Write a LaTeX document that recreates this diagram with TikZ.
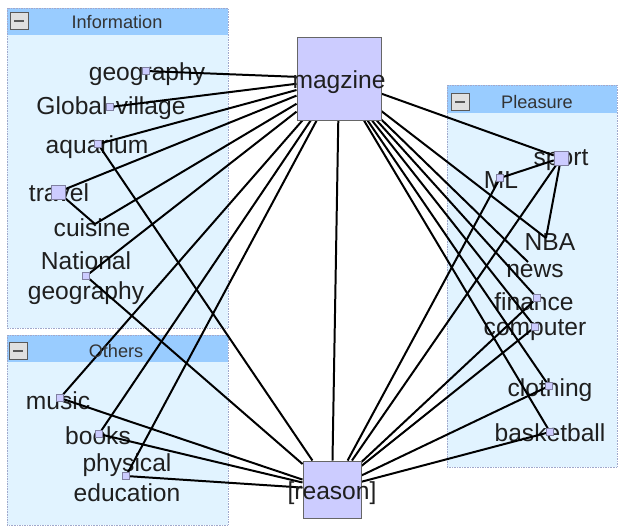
\documentclass[tikz,border=0pt]{standalone}
\usepackage{fontspec}
\setmainfont{Liberation Sans}
\usetikzlibrary{positioning}

\definecolor{groupbg}{HTML}{E1F3FF}
\definecolor{grouphead}{HTML}{99CCFF}
\definecolor{groupline}{HTML}{A0A8CC}
\definecolor{itemfill}{HTML}{CCCCFF}
\definecolor{itemline}{HTML}{8080A0}

\pgfdeclarelayer{boxes}
\pgfdeclarelayer{labels}
\pgfdeclarelayer{links}
\pgfsetlayers{boxes,labels,links,main}

\begin{document}
\begin{tikzpicture}[x=0.03cm, y=-0.03cm]
  \tikzstyle{hub}=[draw=black!60, fill=itemfill, line width=0.8pt, inner sep=0pt];
  \tikzstyle{hubtext}=[inner sep=0pt, yshift=-0.1cm, text=black!88, font=\fontsize{21}{25}\selectfont];
  \tikzstyle{dot}=[draw=itemline, fill=itemfill, inner sep=0pt, minimum size=0.21cm];
  \tikzstyle{bigdot}=[dot, minimum size=0.42cm];
  \tikzstyle{word}=[inner sep=0pt, align=center, text=black!88, font=\fontsize{21}{25.5}\selectfont];
  \tikzstyle{head}=[text=black!80, font=\fontsize{15.5}{18}\selectfont];
  \tikzstyle{minus}=[draw=black!65, fill=black!12, minimum width=0.54cm, minimum height=0.5cm, inner sep=0pt,
    path picture={\draw[line width=2.4pt] ([xshift=-4pt]path picture bounding box.center) -- ([xshift=4pt]path picture bounding box.center);}];
  \tikzstyle{link}=[draw=black, line width=1.7pt];

  \useasboundingbox (0,0) rectangle (619,527);

  % group boxes
  \begin{pgfonlayer}{boxes}
    \fill[groupbg] (7,8) rectangle (228,328);
    \fill[grouphead] (7,8) rectangle (228,35);
    \draw[groupline, densely dotted] (7,8) rectangle (228,328);
    \fill[groupbg] (7,335) rectangle (228,525);
    \fill[grouphead] (7,335) rectangle (228,362);
    \draw[groupline, densely dotted] (7,335) rectangle (228,525);
    \fill[groupbg] (447,85) rectangle (617,467);
    \fill[grouphead] (447,85) rectangle (617,113);
    \draw[groupline, densely dotted] (447,85) rectangle (617,467);
  \end{pgfonlayer}
  \node[minus] (infoBtn) at (19,21) {};
  \node[head] (infoHead) at (117,22) {Information};
  \node[minus] (otherBtn) at (18,351) {};
  \node[head] (otherHead) at (116,351) {Others};
  \node[minus] (pleasBtn) at (460,102) {};
  \node[head] (pleasHead) at (537,102) {Pleasure};

  % hubs
  \node[hub, minimum width=2.52cm, minimum height=2.49cm, label={[hubtext]center:magzine}] (magzine) at (339,78.5) {};
  \node[hub, minimum width=1.74cm, minimum height=1.71cm, label={[hubtext]center:[reason]}] (reason) at (332,489.5) {};

  % item squares
  \node[dot] (geography) at (146,71) {};
  \node[dot] (globalVillage) at (110,107) {};
  \node[dot] (aquarium) at (98,144) {};
  \node[bigdot] (travel) at (58,192) {};
  \coordinate (cuisine) at (95,224);
  \node[dot] (natGeo) at (86,276) {};
  \node[dot] (music) at (60,398) {};
  \node[dot] (books) at (99,434) {};
  \node[dot] (physEd) at (126,476) {};
  \node[bigdot] (sport) at (561,158) {};
  \node[dot] (ml) at (500,178) {};
  \coordinate (nba) at (546,238);
  \coordinate (news) at (528,262);
  \node[dot] (finance) at (537,298) {};
  \node[dot] (computer) at (535,327) {};
  \node[dot] (clothing) at (549,386) {};
  \node[dot] (basketball) at (550,432) {};

  % labels
  \begin{pgfonlayer}{labels}
    \node[word] (geographyTxt) at (147,74) {geography};
    \node[word] (globalVillageTxt) at (111,108) {Global-village};
    \node[word] (aquariumTxt) at (97,147) {aquarium};
    \node[word] (travelTxt) at (59,193) {travel};
    \node[word] (cuisineTxt) at (92,228) {cuisine};
    \node[word] (natGeoTxt) at (86,278) {National\\geography};
    \node[word] (musicTxt) at (58,401) {music};
    \node[word] (booksTxt) at (98,436) {books};
    \node[word] (physEdTxt) at (127,478) {physical\\education};
    \node[word] (sportTxt) at (561,160) {sport};
    \node[word] (mlTxt) at (501,180) {ML};
    \node[word] (nbaTxt) at (550,242) {NBA};
    \node[word] (newsTxt) at (535,271) {news};
    \node[word] (financeTxt) at (534,302) {finance};
    \node[word] (computerTxt) at (535,330) {computer};
    \node[word] (clothingTxt) at (550,390) {clothing};
    \node[word] (basketballTxt) at (550,433) {basketball};
  \end{pgfonlayer}

  % links
  \begin{pgfonlayer}{links}
    \foreach \t in {geography,globalVillage,aquarium,travel,cuisine,natGeo,music,books,physEd,
                    reason,sport,nba,news,finance,computer,clothing,basketball}
      \path[link] (magzine) -- (\t);
    \foreach \t in {aquarium,natGeo,music,books,physEd,ml,sport,finance,computer,clothing,basketball}
      \path[link] (reason) -- (\t);
    \path[link] (travel) edge (cuisine);
    \path[link] (sport) edge (ml)
                        edge (nba);
  \end{pgfonlayer}
\end{tikzpicture}
\end{document}
